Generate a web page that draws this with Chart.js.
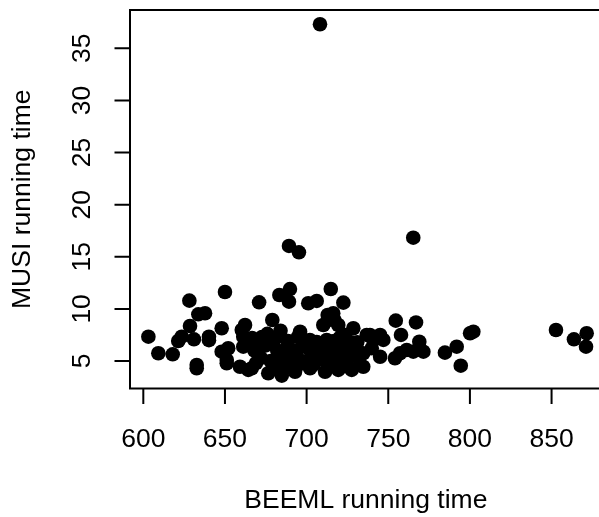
<!DOCTYPE html>
<html>
<head>
<meta charset="utf-8">
<script src="https://cdn.jsdelivr.net/npm/chart.js@4"></script>
<style>
  html, body { margin: 0; padding: 0; overflow: hidden; background: #fff; }
  canvas { display: block; }
</style>
</head>
<body>
<canvas id="plot" width="612" height="517"></canvas>
<script>
// running times (x = BEEML, y = MUSI)
const beemlTime = [
  603.1, 609.2, 618.0, 621.4, 623.5, 628.2, 628.6, 631.0, 632.7, 632.7,
  633.7, 637.8, 640.2, 640.2, 648.0, 648.0, 650.0, 652.0, 651.1, 651.1,
  659.2, 660.3, 662.3, 661.2, 661.2, 664.3, 663.3,
  670.9, 683.3, 689.8, 689.2, 701.0, 706.2, 714.8, 722.5, 679.0, 712.9,
  716.3, 717.0, 696.0, 666.6, 672.7, 680.6, 688.6, 694.7, 702.0, 666.4,
  676.5, 684.8, 692.9, 702.1, 694.9, 704.1, 710.2, 713.3, 719.4, 728.6,
  706.2, 712.3, 711.3, 719.4, 727.6, 734.7, 723.5, 736.8, 738.8, 745.0,
  740.9, 747.0, 739.9, 734.7, 745.0, 732.7, 724.5, 718.4,
  668, 672, 675, 678, 682, 685, 688, 691, 694, 697, 700, 703, 706, 709,
  712, 715, 718, 721, 725, 729, 731, 669, 680, 690, 700, 714, 727, 720,
  676, 684,
  673, 686, 698, 708, 716, 722, 730, 687, 705, 724,
  754.6, 767.0, 757.8, 769.0, 771.5, 784.7, 761.3, 757.2, 754.1, 765.3,
  802.1, 800.1, 791.9, 794.4, 852.7, 863.7, 871.5, 871.1,
  689.2, 695.3, 765.3, 708.2
];
const musiTime = [
  7.33, 5.74, 5.64, 6.92, 7.33, 10.79, 8.36, 7.08, 4.62, 4.30,
  9.48, 9.58, 7.33, 7.00, 8.14, 5.89, 11.62, 6.22, 5.10, 4.78,
  4.45, 7.97, 8.45, 7.33, 6.37, 4.14, 6.85,
  10.63, 11.33, 11.90, 10.69, 10.54, 10.76, 11.91, 10.60, 8.93, 9.41,
  9.58, 8.93, 7.81, 7.21, 7.30, 7.11, 6.92, 7.30, 7.02, 4.30,
  3.82, 3.60, 3.97, 4.30, 4.62, 4.62, 8.45, 8.93, 8.45, 8.14,
  6.82, 7.02, 3.97, 4.14, 4.14, 4.45, 7.50, 7.50, 7.50, 7.50,
  7.02, 7.02, 6.22, 5.74, 5.41, 4.62, 4.93, 4.78,
  6.0, 5.3, 6.5, 5.0, 6.0, 5.2, 6.3, 5.5, 6.0, 5.0, 6.3, 5.5, 6.0, 5.2,
  6.2, 5.5, 6.3, 5.6, 6.2, 5.5, 6.8, 4.8, 4.5, 4.7, 4.9, 4.6, 6.8, 7.2,
  7.6, 7.9,
  6.7, 5.8, 6.6, 5.6, 6.9, 5.1, 5.9, 4.4, 6.6, 6.0,
  8.87, 8.70, 7.50, 6.85, 5.89, 5.80, 6.06, 5.74, 5.26, 5.89,
  7.81, 7.66, 6.37, 4.55, 7.97, 7.08, 7.66, 6.37,
  16.04, 15.43, 16.83, 37.31
];
const xTicks = [600, 650, 700, 750, 800, 850];
const yTicks = [5, 10, 15, 20, 25, 30, 35];
const xTitle = "BEEML running time";
const yTitle = "MUSI running time";

const FONT = '26.5px "Liberation Sans", Arial, sans-serif';

// R style box, ticks and labels
const rAxes = {
  id: "rAxes",
  afterDraw(chart) {
    const ctx = chart.ctx;
    const a = chart.chartArea;
    const sx = chart.scales.x, sy = chart.scales.y;
    const tick = 15.5;
    ctx.save();
    ctx.strokeStyle = "#000";
    ctx.fillStyle = "#000";
    ctx.lineWidth = 2;
    ctx.strokeRect(a.left, a.top, a.right - a.left, a.bottom - a.top);

    ctx.beginPath();
    xTicks.forEach(v => {
      const px = sx.getPixelForValue(v);
      ctx.moveTo(px, a.bottom);
      ctx.lineTo(px, a.bottom + tick);
    });
    yTicks.forEach(v => {
      const py = sy.getPixelForValue(v);
      ctx.moveTo(a.left, py);
      ctx.lineTo(a.left - tick, py);
    });
    ctx.stroke();

    ctx.font = FONT;
    ctx.textAlign = "center";
    ctx.textBaseline = "alphabetic";
    xTicks.forEach(v => {
      ctx.fillText(String(v), sx.getPixelForValue(v), 447);
    });
    yTicks.forEach(v => {
      ctx.save();
      ctx.translate(90, sy.getPixelForValue(v));
      ctx.rotate(-Math.PI / 2);
      ctx.fillText(String(v), 0, 0);
      ctx.restore();
    });

    ctx.fillText(xTitle, (a.left + a.right) / 2, 508);
    ctx.save();
    ctx.translate(29.5, (a.top + a.bottom) / 2);
    ctx.rotate(-Math.PI / 2);
    ctx.fillText(yTitle, 0, 0);
    ctx.restore();
    ctx.restore();
  }
};

const points = beemlTime.map((x, i) => ({ x: x, y: musiTime[i] }));

new Chart(document.getElementById("plot"), {
  type: "scatter",
  data: {
    datasets: [{
      data: points,
      backgroundColor: "#000",
      borderWidth: 0,
      pointRadius: 7.3,
      pointHoverRadius: 7.3
    }]
  },
  options: {
    responsive: false,
    animation: false,
    events: [],
    layout: { padding: { left: 130, top: 10, right: 10.3, bottom: 128.5 } },
    plugins: { legend: { display: false }, tooltip: { enabled: false } },
    scales: {
      x: { type: "linear", display: false, min: 591.85, max: 880.7 },
      y: { type: "linear", display: false, min: 2.36, max: 38.68 }
    }
  },
  plugins: [rAxes]
});
</script>
</body>
</html>
